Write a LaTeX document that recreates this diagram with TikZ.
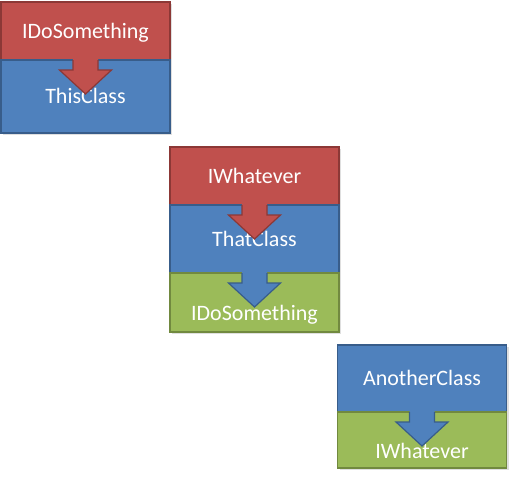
\documentclass[tikz,border=0pt]{standalone}
\usepackage{fontspec}
\setmainfont{Carlito}
\usetikzlibrary{positioning,shadows}
\definecolor{ifacered}{HTML}{C0504D}
\definecolor{ifaceline}{HTML}{8C3836}
\definecolor{classblue}{HTML}{4F81BD}
\definecolor{classline}{HTML}{385D8A}
\definecolor{implgreen}{HTML}{9BBB59}
\definecolor{implline}{HTML}{71893F}
\tikzset{
  band/.style={rectangle, minimum width=169pt, inner sep=0pt, outer sep=0pt, line width=1.2pt,
    text=white, font=\fontsize{22}{26}\selectfont, text height=16pt, text depth=2pt,
    drop shadow={shadow xshift=2pt, shadow yshift=-2pt, opacity=0.25}},
  iface/.style={band, fill=ifacered, draw=ifaceline, minimum height=58pt},
  cls/.style={band, fill=classblue, draw=classline, minimum height=69pt},
  impl/.style={band, fill=implgreen, draw=implline, minimum height=58pt, text height=38pt},
}
% block arrow from the south side of one band into the next
\newcommand\inherits[3]{%
  \fill[#2] (#1.south) +(-12.5,-1) -- +(-12.5,10) -- +(-26,10) -- +(0,34) -- +(26,10) -- +(12.5,10) -- +(12.5,-1) -- cycle;
  \draw[#3, line width=1.2pt] (#1.south) +(-12.5,0) -- +(-12.5,10) -- +(-26,10) -- +(0,34) -- +(26,10) -- +(12.5,10) -- +(12.5,0);
}
\begin{document}
\begin{tikzpicture}[x=1pt,y=-1pt]
    \useasboundingbox (0,0) rectangle (517,480);
    \node[iface] (idosomething) at (85.5,31) {IDoSomething};
    \node[cls, minimum height=73pt, below=0pt of idosomething] (thisclass) {ThisClass};
    \node[iface] (iwhatever) at (254.5,176) {IWhatever};
    \node[cls, minimum height=68pt, below=0pt of iwhatever] (thatclass) {ThatClass};
    \node[impl, minimum height=59pt, below=0pt of thatclass] (thatimpl) {IDoSomething};
    \node[cls, minimum height=67pt] (anotherclass) at (422,378.5) {AnotherClass};
    \node[impl, minimum height=56pt, below=0pt of anotherclass] (anotherimpl) {IWhatever};
    \inherits{idosomething}{ifacered}{ifaceline}
    \inherits{iwhatever}{ifacered}{ifaceline}
    \inherits{thatclass}{classblue}{classline}
    \inherits{anotherclass}{classblue}{classline}
\end{tikzpicture}
\end{document}
